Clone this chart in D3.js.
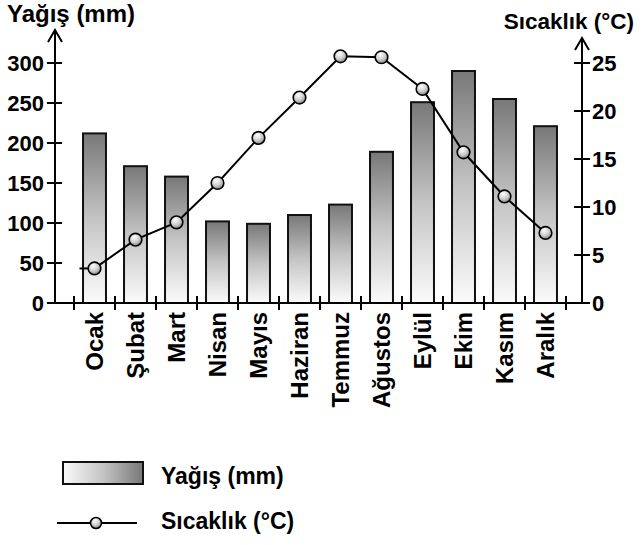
<!DOCTYPE html>
<html>
<head>
<meta charset="utf-8">
<script src="https://cdn.jsdelivr.net/npm/d3@7"></script>
<style>
  html, body { margin: 0; padding: 0; background: #fff; }
  svg { display: block; }
  text { font-family: "Liberation Sans", Arial, Helvetica, sans-serif; font-weight: bold; fill: #000; }
</style>
</head>
<body>
<svg id="chart" width="642" height="545"></svg>
<script>
const months = ["Ocak","Şubat","Mart","Nisan","Mayıs","Haziran","Temmuz","Ağustos","Eylül","Ekim","Kasım","Aralık"];
const precipitation = [212, 171, 158, 102, 99, 110, 123, 189, 251, 290, 255, 221];
const temperature = [3.6, 6.6, 8.4, 12.5, 17.2, 21.4, 25.7, 25.6, 22.3, 15.7, 11.1, 7.3];
const precipTicks = [0, 50, 100, 150, 200, 250, 300];
const tempTicks = [0, 5, 10, 15, 20, 25];
const leftTitle = "Yağış (mm)";
const rightTitle = "Sıcaklık (°C)";

const svg = d3.select("#chart");
const defs = svg.append("defs");

const barGrad = defs.append("linearGradient").attr("id","barGrad")
  .attr("x1","0").attr("y1","0").attr("x2","0").attr("y2","1");
barGrad.append("stop").attr("offset","0%").attr("stop-color","#787878");
barGrad.append("stop").attr("offset","50%").attr("stop-color","#c4c4c4");
barGrad.append("stop").attr("offset","100%").attr("stop-color","#fbfbfb");

const legGrad = defs.append("linearGradient").attr("id","legGrad")
  .attr("x1","0").attr("y1","0").attr("x2","1").attr("y2","0");
legGrad.append("stop").attr("offset","0%").attr("stop-color","#fbfbfb");
legGrad.append("stop").attr("offset","50%").attr("stop-color","#c4c4c4");
legGrad.append("stop").attr("offset","100%").attr("stop-color","#787878");

const dotGrad = defs.append("radialGradient").attr("id","dotGrad")
  .attr("cx","0.4").attr("cy","0.3").attr("r","0.75");
dotGrad.append("stop").attr("offset","0%").attr("stop-color","#ffffff");
dotGrad.append("stop").attr("offset","55%").attr("stop-color","#cccccc");
dotGrad.append("stop").attr("offset","100%").attr("stop-color","#7a7a7a");

const leftX = 55, rightX = 582, baseY = 303, topY = 63;
const x = d3.scaleBand().domain(months).range([74, 566]).paddingInner(0.44).paddingOuter(0.22);
const yL = d3.scaleLinear().domain([0, 300]).range([baseY, topY]);
const yR = d3.scaleLinear().domain([0, 25]).range([baseY, topY]);

// bars
svg.append("g").selectAll("rect").data(precipitation).join("rect")
  .attr("x", (d,i) => x(months[i]))
  .attr("y", d => yL(d))
  .attr("width", x.bandwidth())
  .attr("height", d => baseY - yL(d))
  .attr("fill", "url(#barGrad)")
  .attr("stroke", "#111").attr("stroke-width", 2);

// baseline
svg.append("line").attr("x1", 47).attr("x2", 589).attr("y1", baseY).attr("y2", baseY)
  .attr("stroke","#000").attr("stroke-width",2);

// x ticks at band boundaries
const bounds = d3.range(months.length + 1).map(i => 74 + i * (492 / months.length));
svg.append("g").selectAll("line").data(bounds).join("line")
  .attr("x1", d => d).attr("x2", d => d).attr("y1", baseY - 7).attr("y2", baseY + 7)
  .attr("stroke","#000").attr("stroke-width",2);

// month labels
svg.append("g").selectAll("text").data(months).join("text")
  .attr("transform", d => `translate(${x(d) + x.bandwidth()/2},${baseY + 9}) rotate(-90)`)
  .attr("text-anchor","end").attr("dy","0.36em")
  .style("font-size","24px")
  .text(d => d);

// left axis
const gL = svg.append("g");
gL.append("line").attr("x1", leftX).attr("x2", leftX).attr("y1", baseY).attr("y2", 31)
  .attr("stroke","#000").attr("stroke-width",2);
gL.append("path").attr("d", `M${leftX-7},${42} L${leftX},${30} L${leftX+7},${42}`)
  .attr("fill","none").attr("stroke","#000").attr("stroke-width",2);
gL.selectAll(".t").data(precipTicks).join("line")
  .attr("x1", leftX - 8).attr("x2", leftX + 7).attr("y1", d => yL(d)).attr("y2", d => yL(d))
  .attr("stroke","#000").attr("stroke-width",2);
gL.selectAll("text").data(precipTicks).join("text")
  .attr("x", 44).attr("y", d => yL(d)).attr("dy","0.36em").attr("text-anchor","end")
  .style("font-size","22px").text(d => d);

// right axis
const gR = svg.append("g");
gR.append("line").attr("x1", rightX).attr("x2", rightX).attr("y1", baseY).attr("y2", 39)
  .attr("stroke","#000").attr("stroke-width",2);
gR.append("path").attr("d", `M${rightX-7},${50} L${rightX},${38} L${rightX+7},${50}`)
  .attr("fill","none").attr("stroke","#000").attr("stroke-width",2);
gR.selectAll(".t").data(tempTicks).join("line")
  .attr("x1", rightX - 8).attr("x2", rightX + 8).attr("y1", d => yR(d)).attr("y2", d => yR(d))
  .attr("stroke","#000").attr("stroke-width",2);
gR.selectAll("text").data(tempTicks).join("text")
  .attr("x", 592).attr("y", d => yR(d)).attr("dy","0.36em").attr("text-anchor","start")
  .style("font-size","22px").text(d => d);

// titles
svg.append("text").attr("x", 7).attr("y", 22).style("font-size","24px").text(leftTitle);
svg.append("text").attr("x", 634).attr("y", 29).attr("text-anchor","end").style("font-size","22.5px").text(rightTitle);

// temperature line
const cx = (d,i) => x(months[i]) + x.bandwidth()/2;
svg.append("line").attr("x1", cx(0,0) - 15).attr("x2", cx(0,0))
  .attr("y1", yR(temperature[0])).attr("y2", yR(temperature[0]))
  .attr("stroke","#000").attr("stroke-width",2);
svg.append("path").datum(temperature)
  .attr("d", d3.line().x((d,i) => cx(d,i)).y(d => yR(d)))
  .attr("fill","none").attr("stroke","#000").attr("stroke-width",2);
svg.append("g").selectAll("circle").data(temperature).join("circle")
  .attr("cx", (d,i) => cx(d,i)).attr("cy", d => yR(d)).attr("r", 6.3)
  .attr("fill","url(#dotGrad)").attr("stroke","#000").attr("stroke-width",1.6);

// legend
svg.append("rect").attr("x", 63).attr("y", 462).attr("width", 80).attr("height", 22)
  .attr("fill","url(#legGrad)").attr("stroke","#111").attr("stroke-width",2);
svg.append("text").attr("x", 161).attr("y", 484).style("font-size","23px").text(leftTitle);
svg.append("line").attr("x1", 57).attr("x2", 137).attr("y1", 523).attr("y2", 523)
  .attr("stroke","#000").attr("stroke-width",2);
svg.append("circle").attr("cx", 96).attr("cy", 523).attr("r", 5.5)
  .attr("fill","url(#dotGrad)").attr("stroke","#000").attr("stroke-width",1.6);
svg.append("text").attr("x", 161).attr("y", 529).style("font-size","23px").text(rightTitle);
</script>
</body>
</html>
